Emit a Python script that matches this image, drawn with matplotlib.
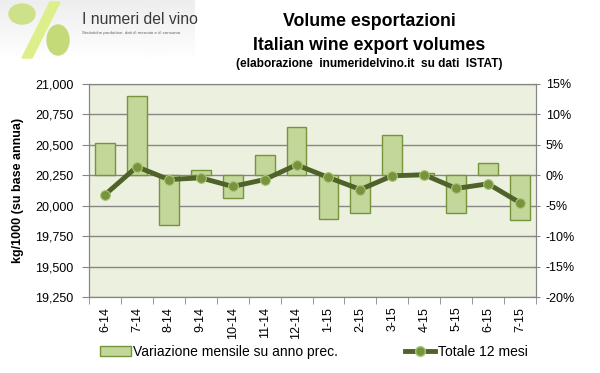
import matplotlib.pyplot as plt
import matplotlib.patches as mpatches
from matplotlib.lines import Line2D
import numpy as np

plt.rcParams['font.family'] = ['Liberation Sans', 'DejaVu Sans']

# dati
mesi = ['6-14', '7-14', '8-14', '9-14', '10-14', '11-14', '12-14',
        '1-15', '2-15', '3-15', '4-15', '5-15', '6-15', '7-15']
variazione = [5.3, 13.1, -8.2, 0.9, -3.7, 3.3, 7.9,
              -7.2, -6.2, 6.6, 0.4, -6.2, 2.0, -7.4]
totale = [20090, 20320, 20215, 20229, 20158, 20215, 20336,
          20232, 20133, 20246, 20254, 20142, 20180, 20024]

verde_barre = '#c4d79b'
bordo_barre = '#77933c'
linea_col = '#4f6228'
sfondo = '#ebf1de'
grigio = '#868686'

fig = plt.figure(figsize=(6, 3.73), dpi=100)
ax = fig.add_axes([89/600, 1-297/373, (536-89)/600, (297-84)/373])
ax2 = ax.twinx()

x = np.arange(len(mesi))

# barre (asse destro, %)
ax2.bar(x, variazione, width=0.62, color=verde_barre, edgecolor=bordo_barre,
        linewidth=1, zorder=3)
ax2.set_ylim(-20, 15)
ax2.set_yticks(np.arange(-20, 16, 5))
ax2.set_yticklabels([f'{v}%' for v in range(-20, 16, 5)], fontsize=9)
ax2.grid(axis='y', color=grigio, linewidth=1)
ax2.set_axisbelow(True)
ax2.tick_params(axis='y', direction='inout', length=6, color=grigio, pad=4)
ax2.patch.set_visible(True)
ax2.patch.set_facecolor(sfondo)

# linea (asse sinistro)
ax.set_zorder(ax2.get_zorder() + 1)
ax.patch.set_visible(False)
ax.plot(x, totale, color=linea_col, linewidth=3.5, marker='o', markersize=7,
        markerfacecolor=bordo_barre, markeredgecolor='#a9c476', markeredgewidth=0.8)
ax.set_ylim(19250, 21000)
ax.set_yticks(np.arange(19250, 21001, 250))
ax.set_yticklabels([f'{v:,}' for v in range(19250, 21001, 250)], fontsize=9)
ax.tick_params(axis='y', direction='out', length=5, color=grigio, pad=6)
ax.set_ylabel('kg/1000 (su base annua)', fontsize=9, fontweight='bold', labelpad=8)

ax.set_xlim(-0.5, len(mesi) - 0.5)
ax.set_xticks(x)
ax.set_xticklabels(mesi, rotation=90, fontsize=9)
ax.set_xticks(np.arange(-0.5, len(mesi), 1), minor=True)
ax.tick_params(axis='x', which='major', length=0, pad=7)
ax.tick_params(axis='x', which='minor', direction='out', length=5, color=grigio)

for a in (ax, ax2):
    for s in a.spines.values():
        s.set_color(grigio)

# titolo
fig.text(369/600, 1-22/373, 'Volume esportazioni', ha='center', va='center',
         fontsize=12.8, fontweight='bold')
fig.text(369/600, 1-45/373, 'Italian wine export volumes', ha='center', va='center',
         fontsize=12.8, fontweight='bold')
fig.text(369/600, 1-64/373, '(elaborazione  inumeridelvino.it  su dati  ISTAT)',
         ha='center', va='center', fontsize=8.6, fontweight='bold')

# logo
def px(xp, yp):
    return (xp/600, 1-yp/373)

grad = np.linspace(0.93, 1.0, 60).reshape(-1, 1) * np.ones((1, 2))
logo_ax = fig.add_axes([0, 1-62/373, 195/600, 62/373], zorder=-1)
logo_ax.imshow(grad, cmap='gray', vmin=0, vmax=1, aspect='auto', extent=[0, 1, 0, 1])
logo_ax.axis('off')

fig.patches.append(mpatches.Polygon([px(22, 58), px(32, 58), px(60, 2), px(50, 2)],
                                    closed=True, transform=fig.transFigure,
                                    color='#dcef8a', zorder=1))
fig.patches.append(mpatches.Ellipse(px(22, 14), 26/600, 20/373, transform=fig.transFigure,
                                    color='#cde08a', zorder=2))
fig.patches.append(mpatches.Ellipse(px(58, 40), 22/600, 30/373, transform=fig.transFigure,
                                    color='#c4da78', zorder=2))
fig.text(82/600, 1-20/373, 'I numeri del vino', fontsize=11.3, color='#3a3a3a',
         va='center', ha='left')
fig.text(82/600, 1-33/373, 'Statistiche produttive, dati di mercato e di consumo.',
         fontsize=3.2, color='#666666', va='center', ha='left')

# legenda
h1 = mpatches.Patch(facecolor=verde_barre, edgecolor=bordo_barre)
h2 = Line2D([0], [0], color=linea_col, linewidth=3.5, marker='o', markersize=7,
            markerfacecolor=bordo_barre, markeredgecolor='#a9c476')
fig.legend([h1, h2], ['Variazione mensile su anno prec.', 'Totale 12 mesi'],
           loc='center', bbox_to_anchor=(314/600, 1-352/373), ncol=2, frameon=False,
           fontsize=10, handlelength=2.2, handletextpad=0.2, columnspacing=4.8,
           borderpad=0)

fig.savefig('out.png', dpi=100)
